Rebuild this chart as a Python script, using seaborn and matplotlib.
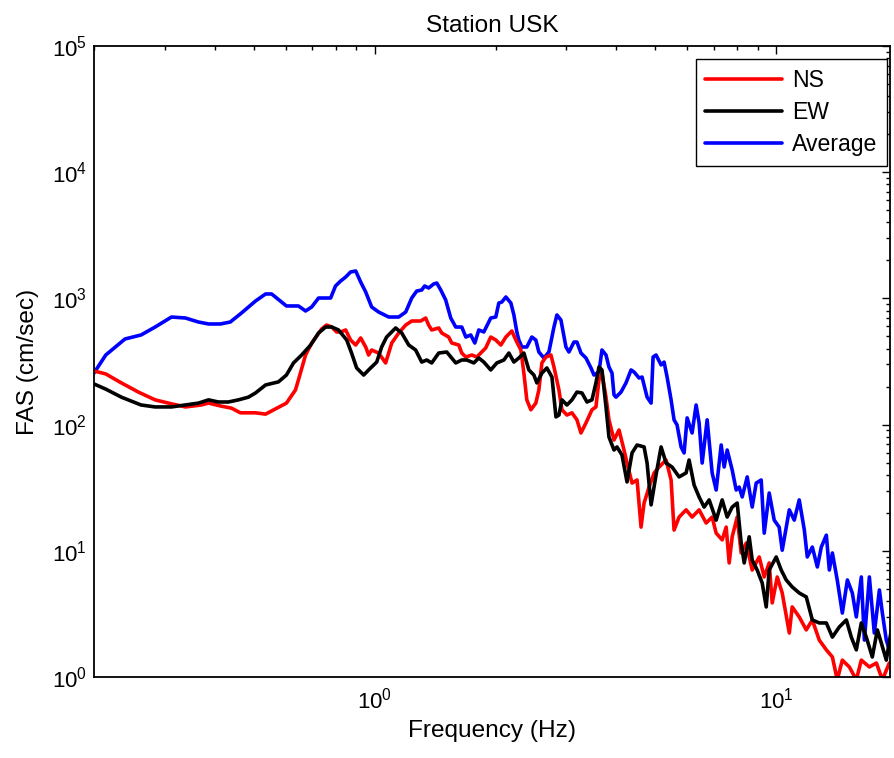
import numpy as np
import pandas as pd
import seaborn as sb
import matplotlib.pyplot as plt
from matplotlib.ticker import LogLocator, NullFormatter

# spectra (frequency in Hz, FAS in cm/sec)
avg_freq = [0.20, 0.214, 0.239, 0.262, 0.284, 0.312, 0.338, 0.364, 0.386, 0.413,
            0.437, 0.466, 0.505, 0.535, 0.554, 0.603, 0.646, 0.673, 0.697, 0.725,
            0.777, 0.799, 0.823, 0.847, 0.871, 0.897, 0.923, 0.950, 0.983, 1.023,
            1.084, 1.148, 1.195, 1.237, 1.273, 1.310, 1.332, 1.363, 1.403, 1.428,
            1.461, 1.503, 1.547, 1.592, 1.648, 1.687, 1.735, 1.776, 1.817, 1.870,
            1.946, 2.003, 2.038, 2.074, 2.122, 2.184, 2.222, 2.260, 2.286, 2.326,
            2.393, 2.463, 2.520, 2.564, 2.639, 2.716, 2.796, 2.844, 2.910, 2.995,
            3.047, 3.136, 3.190, 3.264, 3.359, 3.457, 3.517, 3.619, 3.682, 3.768,
            3.833, 3.900, 3.945, 3.990, 4.107, 4.226, 4.350, 4.426, 4.555, 4.634,
            4.769, 4.880, 4.936, 5.021, 5.168, 5.258, 5.349, 5.473, 5.567, 5.664,
            5.796, 5.897, 6.000, 6.174, 6.317, 6.427, 6.540, 6.730, 6.926, 7.087,
            7.294, 7.420, 7.549, 7.769, 7.949, 8.087, 8.228, 8.468, 8.713, 8.916,
            9.175, 9.335, 9.606, 9.886, 10.17, 10.35, 10.78, 11.09, 11.41, 11.75,
            11.95, 12.30, 12.66, 12.95, 13.33, 13.56, 13.80, 14.19, 14.61, 15.04,
            15.47, 15.83, 16.29, 16.58, 17.06, 17.55, 18.07, 18.38, 18.80, 19.13]
avg_fas = [256, 356, 477, 513, 593, 712, 699, 650, 627, 627,
           650, 766, 953, 1084, 1084, 871, 871, 795, 855, 1007,
           1007, 1254, 1374, 1477, 1619, 1649, 1349, 1124, 855, 780,
           712, 712, 780, 1007, 1144, 1166, 1254, 1209, 1301, 1324,
           1166, 971, 699, 593, 593, 494, 513, 443, 562, 542,
           699, 712, 919, 936, 1026, 919, 739, 542, 468, 412,
           412, 494, 468, 376, 337, 376, 593, 739, 674, 412,
           376, 451, 451, 369, 337, 281, 247, 261, 390, 356,
           286, 256, 172, 165, 181, 214, 271, 261, 234, 238,
           165, 148, 343, 356, 297, 313, 238, 157, 109, 99.3,
           66.5, 59.6, 113, 85.8, 143, 103, 49.6, 109, 41.4, 30.3,
           68.9, 46.1, 62.9, 43.7, 30.3, 32.0, 26.7, 38.5, 22.2, 34.4,
           36.4, 13.8, 28.7, 17.5, 15.4, 10.1, 21.1, 17.5, 25.3, 14.6,
           8.93, 10.7, 7.44, 10.7, 13.3, 7.04, 9.61, 5.87, 3.21, 5.87,
           4.63, 2.99, 6.20, 1.96, 6.20, 2.23, 4.89, 3.21, 1.96, 1.64]

ns_freq = [0.20, 0.214, 0.234, 0.258, 0.284, 0.312, 0.338, 0.370, 0.386, 0.415,
           0.440, 0.463, 0.505, 0.535, 0.566, 0.603, 0.635, 0.646, 0.673, 0.697,
           0.738, 0.759, 0.782, 0.804, 0.823, 0.847, 0.871, 0.897, 0.923, 0.950,
           0.966, 0.983, 1.023, 1.065, 1.103, 1.148, 1.195, 1.237, 1.302, 1.340,
           1.363, 1.387, 1.444, 1.469, 1.529, 1.556, 1.620, 1.648, 1.687, 1.746,
           1.796, 1.891, 1.946, 2.003, 2.062, 2.122, 2.196, 2.247, 2.313, 2.353,
           2.393, 2.449, 2.520, 2.564, 2.609, 2.670, 2.748, 2.796, 2.877, 2.927,
           3.012, 3.100, 3.190, 3.264, 3.359, 3.477, 3.557, 3.619, 3.682, 3.768,
           3.833, 3.945, 4.060, 4.178, 4.251, 4.375, 4.503, 4.607, 4.688, 4.824,
           4.965, 5.109, 5.318, 5.473, 5.567, 5.730, 5.965, 6.174, 6.427, 6.691,
           6.926, 7.087, 7.336, 7.506, 7.636, 7.769, 7.995, 8.181, 8.419, 8.713,
           9.071, 9.335, 9.606, 9.773, 10.06, 10.35, 10.78, 10.96, 11.41, 11.88,
           12.30, 12.80, 13.33, 13.80, 14.19, 14.61, 15.21, 15.83, 16.29, 17.06,
           17.76, 18.38, 19.13]
ns_fas = [266, 252, 214, 181, 157, 146, 138, 143, 148, 140,
          135, 124, 124, 121, 133, 148, 188, 226, 356, 443,
          572, 615, 593, 542, 542, 562, 468, 427, 486, 412,
          356, 390, 369, 308, 443, 532, 615, 662, 662, 699,
          615, 562, 583, 532, 494, 443, 427, 369, 343, 356,
          343, 405, 494, 468, 427, 494, 552, 468, 390, 256,
          157, 131, 148, 188, 308, 343, 356, 286, 188, 131,
          119, 124, 109, 85.8, 103, 131, 138, 226, 256, 165,
          109, 75.5, 90.6, 62.9, 49.6, 34.4, 36.4, 15.4, 23.9, 32.0,
          41.4, 46.1, 52.4, 36.4, 14.6, 18.5, 21.1, 18.5, 21.1, 16.6,
          18.5, 13.8, 12.2, 15.4, 8.01, 12.9, 18.5, 9.61, 11.5, 7.04,
          8.93, 6.20, 8.01, 3.86, 6.20, 4.63, 2.23, 3.59, 2.99, 2.36,
          2.83, 1.96, 1.64, 1.44, 0.95, 1.36, 1.20, 0.95, 1.36, 1.20,
          1.29, 0.95, 1.29]

ew_freq = [0.20, 0.214, 0.234, 0.262, 0.284, 0.312, 0.338, 0.364, 0.386, 0.408,
           0.432, 0.458, 0.485, 0.505, 0.535, 0.576, 0.603, 0.628, 0.658, 0.693,
           0.725, 0.755, 0.782, 0.813, 0.852, 0.876, 0.902, 0.939, 0.966, 1.012,
           1.041, 1.071, 1.128, 1.168, 1.216, 1.265, 1.310, 1.348, 1.387, 1.444,
           1.512, 1.592, 1.648, 1.696, 1.766, 1.817, 1.870, 1.946, 2.015, 2.098,
           2.159, 2.222, 2.286, 2.353, 2.421, 2.492, 2.535, 2.609, 2.685, 2.764,
           2.828, 2.877, 2.927, 3.012, 3.100, 3.190, 3.283, 3.379, 3.477, 3.557,
           3.619, 3.682, 3.768, 3.833, 3.945, 4.013, 4.130, 4.251, 4.375, 4.503,
           4.688, 4.769, 4.880, 5.021, 5.168, 5.318, 5.503, 5.730, 5.965, 6.068,
           6.245, 6.427, 6.614, 6.808, 7.087, 7.336, 7.549, 7.769, 7.995, 8.181,
           8.323, 8.566, 8.713, 8.967, 9.228, 9.443, 9.606, 10.00, 10.29, 10.59,
           10.96, 11.41, 11.88, 12.30, 12.80, 13.33, 13.80, 14.36, 14.95, 15.38,
           15.83, 16.29, 16.76, 17.35, 17.86, 18.27, 18.80, 19.35]
ew_fas = [210, 191, 165, 143, 138, 138, 143, 148, 157, 151,
          151, 157, 165, 178, 206, 218, 247, 308, 356, 427,
          532, 593, 593, 562, 468, 369, 281, 247, 271, 313,
          412, 494, 583, 532, 427, 390, 313, 325, 308, 369,
          376, 308, 325, 325, 308, 337, 313, 271, 308, 325,
          369, 313, 337, 369, 271, 247, 214, 256, 281, 238,
          115, 119, 157, 143, 157, 181, 178, 151, 157, 214,
          286, 271, 138, 79.7, 62.9, 66.5, 57.4, 35.1, 59.6, 68.9,
          66.5, 49.6, 23.1, 40.0, 66.5, 49.6, 46.1, 38.5, 41.4, 52.4,
          33.2, 26.7, 22.2, 25.3, 17.5, 25.3, 18.5, 22.2, 23.9, 11.5,
          8.01, 12.9, 8.45, 7.04, 5.56, 3.59, 7.04, 8.93, 7.04, 5.87,
          5.17, 4.63, 4.31, 2.83, 2.68, 2.68, 2.07, 2.49, 2.83, 2.07,
          1.64, 2.68, 2.07, 1.44, 2.36, 1.86, 1.36, 2.36]

sb.set_style('white')
plt.rcParams['font.family'] = ['Liberation Sans', 'DejaVu Sans']
plt.rcParams['mathtext.fontset'] = 'custom'
plt.rcParams['mathtext.rm'] = 'Liberation Sans'
plt.rcParams['text.color'] = 'black'
plt.rcParams['axes.labelcolor'] = 'black'

fig = plt.figure(figsize=(8.94, 7.58), dpi=100)
ax = fig.add_axes([0.1051, 0.1069, 0.8904, 0.8324])

lw = 2.6
sb.lineplot(x=avg_freq, y=avg_fas, color='blue', lw=lw, label='Average',
            estimator=None, sort=False, ax=ax)
sb.lineplot(x=ns_freq, y=ns_fas, color='red', lw=lw, label='NS',
            estimator=None, sort=False, ax=ax)
sb.lineplot(x=ew_freq, y=ew_fas, color='black', lw=lw, label='EW',
            estimator=None, sort=False, ax=ax)

ax.set_xscale('log')
ax.set_yscale('log')
ax.set_xlim(0.2, 19.2)
ax.set_ylim(1, 1e5)

for a in (ax.xaxis, ax.yaxis):
    a.set_major_locator(LogLocator(base=10))
    a.set_minor_locator(LogLocator(base=10, subs=np.arange(2, 10)))
    a.set_minor_formatter(NullFormatter())

ax.tick_params(which='both', direction='in', top=True, right=True,
               labelsize=16, width=1, colors='black')
ax.tick_params(which='major', length=6)
ax.tick_params(which='minor', length=3)
ax.tick_params(axis='x', pad=8)
ax.tick_params(axis='y', pad=5)
for s in ax.spines.values():
    s.set_linewidth(1.3)
    s.set_color('black')

ax.set_xlabel('Frequency (Hz)', fontsize=17.6, labelpad=4)
ax.set_ylabel('FAS (cm/sec)', fontsize=17.6, labelpad=9)
ax.set_title('Station USK', fontsize=17.6, pad=10)

h, l = ax.get_legend_handles_labels()
order = [l.index('NS'), l.index('EW'), l.index('Average')]
leg = ax.legend([h[i] for i in order], [l[i] for i in order],
                loc='upper right', bbox_to_anchor=(0.9962, 0.9794),
                borderaxespad=0, fontsize=16.6, handlelength=3.3,
                handletextpad=0.45, borderpad=0.42, labelspacing=0.4,
                fancybox=False, framealpha=1, edgecolor='black')
leg.get_frame().set_linewidth(1.0)

fig.savefig('out.png', dpi=100)
